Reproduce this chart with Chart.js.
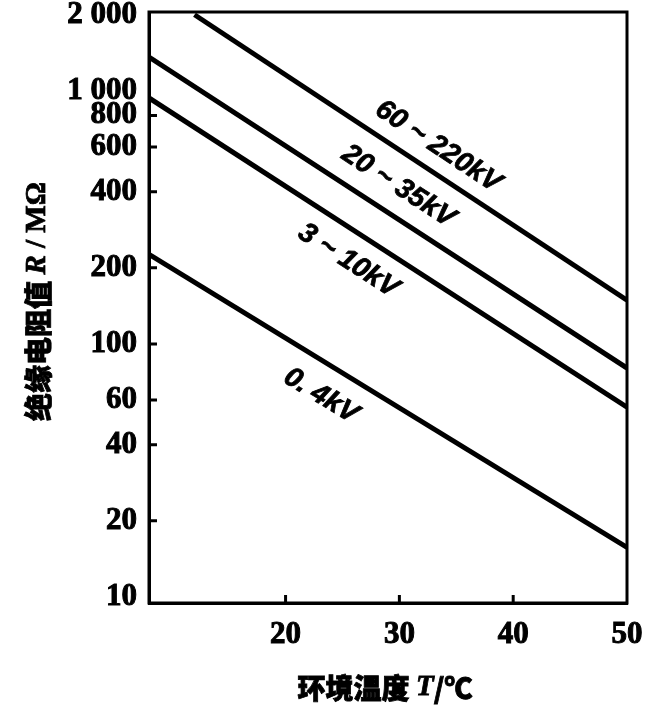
<!DOCTYPE html>
<html>
<head>
<meta charset="utf-8">
<script src="https://cdn.jsdelivr.net/npm/chart.js@4.4.1/dist/chart.umd.min.js"></script>
<style>
    html, body { margin: 0; padding: 0; background: #fff; }
    #wrap { width: 646px; height: 705px; }
</style>
</head>
<body>
<div id="wrap"><canvas id="insulation_chart"></canvas></div>
<script>
// Voltage classes and the two ends of each straight line (T in °C, R in MΩ)
const voltageClasses = ['60 ~ 220kV', '20 ~ 35kV', '3 ~ 10kV', '0. 4kV']
const tempStart = [12, 8, 8, 8]
const tempEnd = [50, 50, 50, 50]
const resistanceStart = [2000, 1362, 938, 226]
const resistanceEnd = [149, 80.3, 56.3, 15.7]

// Axis ticks
const yTickValues = [10, 20, 40, 60, 100, 200, 400, 600, 800, 1000, 2000]
const yTickLabels = ['10', '20', '40', '60', '100', '200', '400', '600', '800', '1 000', '2 000']
const xTickValues = [20, 30, 40, 50]
const xTickLabels = ['20', '30', '40', '50']

// ticks that carry a small inner mark in the original
const yMarked = [20, 40, 60, 100, 200, 400, 600, 800]
const xMarked = [20, 30, 40]

const tickFont = { family: '"Liberation Serif", serif', size: 31, weight: 'bold' }

// where each curve label sits: temperature along its line, vertical shift in px
const labelPlacement = [
    { at: 33.4, shift: -29 },
    { at: 29.9, shift: -33 },
    { at: 25.5, shift: 34 },
    { at: 23.1, shift: 36 }
]

const datasets = voltageClasses.map((name, i) => ({
    label: name,
    data: [
        { x: tempStart[i], y: resistanceStart[i] },
        { x: tempEnd[i], y: resistanceEnd[i] }
    ],
    borderColor: '#000',
    borderWidth: 5,
    pointRadius: 0,
    fill: false,
    tension: 0
}))

function drawMixed(ctx, parts, cx, cy, rotation) {
    ctx.save()
    ctx.translate(cx, cy)
    ctx.rotate(rotation)
    ctx.textBaseline = 'middle'
    ctx.textAlign = 'left'
    ctx.fillStyle = '#000'
    ctx.strokeStyle = '#000'
    ctx.lineWidth = 0.8
    let total = 0
    parts.forEach(p => {
        ctx.font = p.font
        p.w = ctx.measureText(p.text).width
        total += p.w
    })
    let x = -total / 2
    parts.forEach(p => {
        ctx.font = p.font
        ctx.fillText(p.text, x, 0)
        ctx.strokeText(p.text, x, 0)
        x += p.w
    })
    ctx.restore()
}

const cjkBold = '900 28px "Noto Sans CJK SC", sans-serif'
const serifItalic = 'italic bold 29px "Liberation Serif", serif'
const serifBold = 'bold 29px "Liberation Serif", serif'

const framePlugin = {
    id: 'frame',
    afterDraw(chart) {
        const { ctx, chartArea: a, scales } = chart
        ctx.save()
        ctx.strokeStyle = '#000'
        ctx.lineWidth = 3
        ctx.strokeRect(a.left, a.top, a.right - a.left, a.bottom - a.top)

        // small inner tick marks
        ctx.lineWidth = 3
        ctx.beginPath()
        yMarked.forEach(v => {
            const y = scales.y.getPixelForValue(v)
            ctx.moveTo(a.left, y)
            ctx.lineTo(a.left + 8, y)
        })
        xMarked.forEach(v => {
            const x = scales.x.getPixelForValue(v)
            ctx.moveTo(x, a.bottom)
            ctx.lineTo(x, a.bottom - 8)
        })
        ctx.stroke()
        ctx.restore()

        // axis titles
        drawMixed(ctx, [
            { text: '绝缘电阻值 ', font: cjkBold },
            { text: 'R', font: serifItalic },
            { text: ' / MΩ', font: serifBold }
        ], 38, (a.top + a.bottom) / 2 - 6, -Math.PI / 2)

        drawMixed(ctx, [
            { text: '环境温度 ', font: cjkBold },
            { text: 'T', font: serifItalic },
            { text: '/℃', font: cjkBold }
        ], (a.left + a.right) / 2 - 3, chart.height - 17, 0)
    }
}

const lineLabelPlugin = {
    id: 'lineLabels',
    afterDatasetsDraw(chart) {
        const { ctx } = chart
        const xScale = chart.scales.x
        chart.data.datasets.forEach((ds, i) => {
            const pts = chart.getDatasetMeta(i).data
            const p0 = pts[0], p1 = pts[1]
            const angle = Math.atan2(p1.y - p0.y, p1.x - p0.x)
            const px = xScale.getPixelForValue(labelPlacement[i].at)
            const t = (px - p0.x) / (p1.x - p0.x)
            const py = p0.y + t * (p1.y - p0.y) + labelPlacement[i].shift
            ctx.save()
            ctx.translate(px, py)
            ctx.rotate(angle)
            ctx.font = 'italic bold 28px "Liberation Sans", sans-serif'
            ctx.fillStyle = '#000'
            ctx.strokeStyle = '#000'
            ctx.lineWidth = 0.8
            ctx.textAlign = 'center'
            ctx.textBaseline = 'middle'
            ctx.fillText(ds.label, 0, 0)
            ctx.strokeText(ds.label, 0, 0)
            ctx.restore()
        })
    }
}

const config = {
    type: 'line',
    data: { datasets: datasets },
    options: {
        responsive: true,
        maintainAspectRatio: false,
        animation: false,
        layout: { padding: { top: 12, right: 19, left: 0, bottom: 0 } },
        plugins: {
            legend: { display: false },
            tooltip: { enabled: false }
        },
        scales: {
            x: {
                type: 'linear',
                min: 8,
                max: 50,
                afterBuildTicks: scale => {
                    scale.ticks = xTickValues.map(v => ({ value: v }))
                },
                afterFit: scale => {
                    scale.height = 102
                    scale.paddingLeft = 0
                    scale.paddingRight = 0
                },
                grid: { display: false, drawTicks: false },
                border: { display: true, color: '#000', width: 3 },
                ticks: {
                    color: '#000',
                    font: tickFont,
                    padding: 13,
                    maxRotation: 0,
                    autoSkip: false,
                    textStrokeColor: '#000',
                    textStrokeWidth: 1,
                    callback: (value, index) => xTickLabels[index]
                }
            },
            y: {
                type: 'logarithmic',
                min: 9.47,
                max: 2051,
                afterBuildTicks: scale => {
                    scale.ticks = yTickValues.map(v => ({ value: v }))
                },
                afterFit: scale => {
                    scale.width = 149
                    scale.paddingTop = 0
                    scale.paddingBottom = 0
                },
                grid: { display: false, drawTicks: false },
                border: { display: true, color: '#000', width: 3 },
                ticks: {
                    color: '#000',
                    font: tickFont,
                    padding: 12,
                    autoSkip: false,
                    textStrokeColor: '#000',
                    textStrokeWidth: 1,
                    callback: (value, index) => yTickLabels[index]
                }
            }
        }
    },
    plugins: [framePlugin, lineLabelPlugin]
}

const canvas = document.getElementById('insulation_chart')
const chart = new Chart(canvas.getContext('2d'), config)
</script>
</body>
</html>
